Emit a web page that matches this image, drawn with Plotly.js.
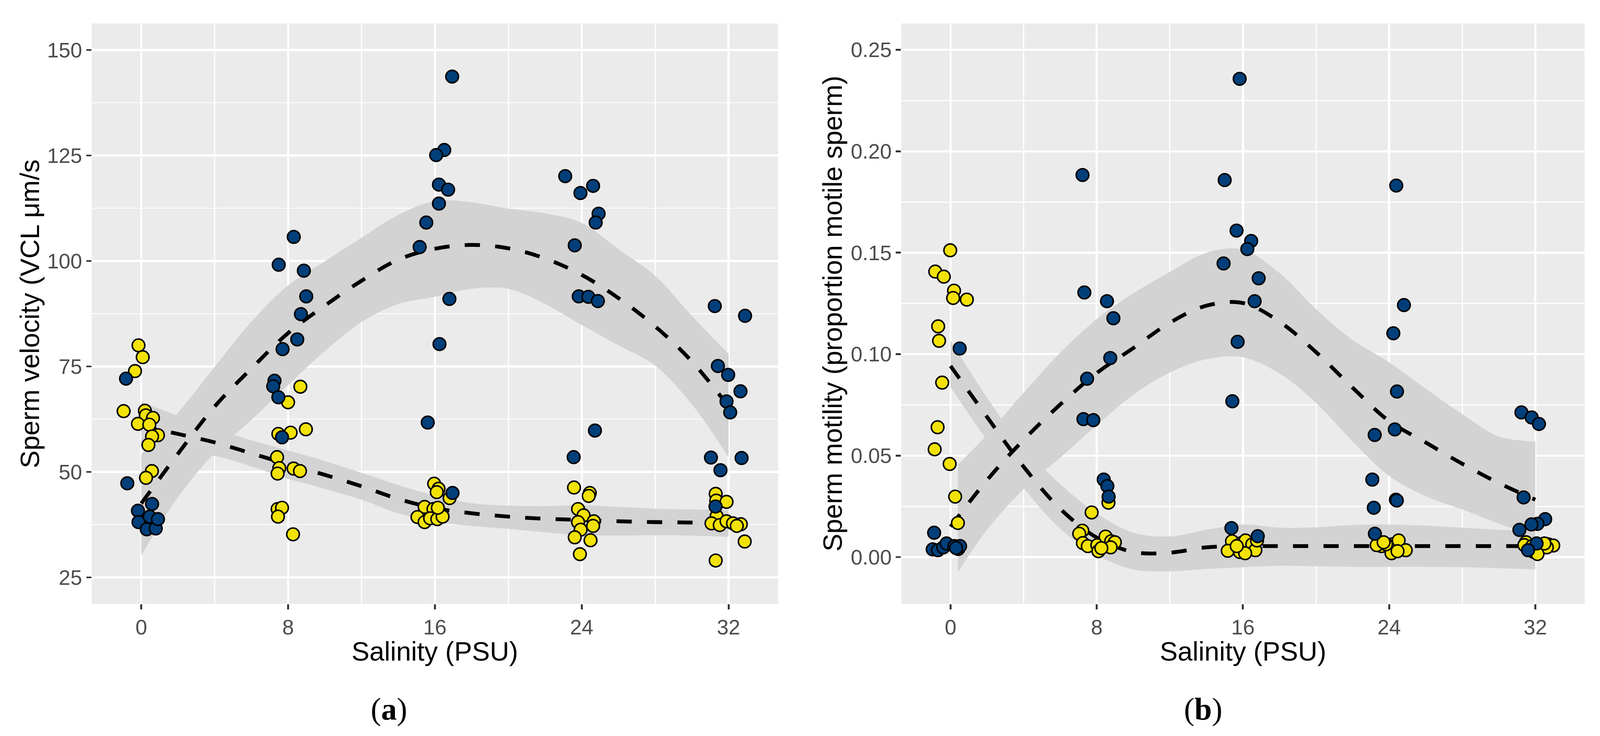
<!DOCTYPE html>
<html>
<head>
<meta charset="utf-8">
<script src="https://cdn.plot.ly/plotly-3.0.1.min.js"></script>
<style>
  html, body { margin: 0; padding: 0; background: white; overflow: hidden; }
</style>
</head>
<body>
<div id="grafico"></div>
<script>
// salinity ticks and jittered positions of the points
var salTicks = [0, 8, 16, 24, 32];
var salMinor = [4, 12, 20, 28];

// (a) velocity - dark blue group
var velBlueX = [-0.83, -0.76, -0.18, -0.15, 0.30, 0.46, 0.59, 0.79, 0.91,
  8.31, 7.49, 8.86, 8.99, 8.70, 8.50, 7.70, 7.26, 7.19, 7.47, 7.67,
  16.94, 16.51, 16.07, 16.22, 16.72, 16.22, 15.53, 15.17, 16.79, 16.25, 15.61, 16.96,
  23.10, 23.93, 24.62, 24.92, 24.76, 23.62, 23.84, 24.36, 24.88, 24.72, 23.56,
  31.25, 32.90, 31.42, 31.98, 32.65, 31.89, 32.09, 31.04, 32.71, 31.56, 31.29];
var velBlueY = [72.1, 47.3, 40.8, 38.1, 36.4, 39.4, 42.4, 36.6, 38.8,
  105.7, 99.1, 97.7, 91.6, 87.4, 81.4, 79.1, 71.6, 70.3, 67.7, 58.2,
  143.7, 126.3, 125.1, 118.1, 116.9, 113.6, 109.1, 103.3, 91.0, 80.3, 61.7, 45.0,
  120.1, 116.1, 117.8, 111.2, 109.1, 103.7, 91.6, 91.5, 90.5, 59.8, 53.5,
  89.3, 87.0, 75.1, 73.0, 69.1, 66.7, 64.1, 53.4, 53.3, 50.4, 41.8];

// (a) velocity - yellow group
var velYelX = [-0.15, 0.08, -0.34, -0.96, 0.20, 0.25, -0.18, 0.64, 0.44, 0.91, 0.59, 0.39, 0.58, 0.26,
  8.67, 8.00, 8.97, 8.14, 7.47, 7.40, 7.52, 7.43, 8.30, 8.65, 7.43, 7.67, 7.45, 8.27,
  15.96, 16.20, 16.10, 16.80, 15.44, 15.92, 15.05, 15.44, 15.74, 16.13, 16.42, 16.16,
  23.58, 24.44, 24.38, 23.80, 24.10, 23.80, 24.66, 24.62, 23.94, 23.62, 24.48, 23.90,
  31.30, 31.33, 31.89, 31.35, 31.07, 31.52, 31.89, 32.24, 32.67, 32.45, 32.88, 31.30];
var velYelY = [80.0, 77.2, 73.9, 64.4, 64.5, 63.4, 61.4, 62.8, 61.2, 58.7, 58.4, 56.4, 50.2, 48.6,
  70.2, 66.5, 60.1, 59.3, 59.0, 53.5, 50.9, 49.6, 50.8, 50.2, 41.2, 41.5, 39.4, 35.2,
  47.2, 46.0, 45.2, 43.8, 41.7, 41.2, 39.3, 38.1, 39.0, 38.8, 39.4, 41.5,
  46.3, 45.0, 44.3, 41.2, 39.7, 38.1, 38.3, 37.2, 36.3, 34.5, 33.8, 30.5,
  44.8, 43.2, 42.9, 39.5, 37.8, 37.4, 38.3, 37.8, 37.6, 37.2, 33.5, 29.0];

// (b) motility - dark blue group
var motBlueX = [0.50, -0.90, -0.98, -0.69, -0.40, -0.22, 0.21, 0.42, 0.52, 0.30,
  7.22, 7.32, 8.56, 8.91, 8.74, 7.47, 7.27, 7.81, 8.38, 8.58, 8.65,
  15.82, 15.00, 15.65, 16.45, 16.24, 14.94, 16.86, 16.64, 15.71, 15.42, 15.37, 16.81,
  24.39, 24.81, 24.23, 24.43, 23.21, 24.31, 23.08, 23.16, 24.37, 24.42, 23.22,
  31.24, 31.80, 32.20, 31.36, 32.54, 32.12, 31.79, 31.13, 32.07, 31.60];
var motBlueY = [0.1028, 0.0120, 0.0038, 0.0034, 0.0048, 0.0067, 0.0054, 0.0040, 0.0054, 0.0045,
  0.1883, 0.1304, 0.1261, 0.1177, 0.0981, 0.0879, 0.0680, 0.0675, 0.0382, 0.0350, 0.0298,
  0.2357, 0.1858, 0.1609, 0.1558, 0.1518, 0.1447, 0.1374, 0.1261, 0.1061, 0.0768, 0.0143, 0.0103,
  0.1831, 0.1242, 0.1103, 0.0816, 0.0602, 0.0629, 0.0382, 0.0243, 0.0283, 0.0279, 0.0115,
  0.0713, 0.0688, 0.0656, 0.0294, 0.0187, 0.0164, 0.0161, 0.0134, 0.0067, 0.0034];

// (b) motility - yellow group
var motYelX = [-0.02, -0.84, -0.37, 0.19, 0.14, 0.89, -0.68, -0.63, -0.46, -0.71, -0.87, -0.05, 0.25, 0.40,
  8.64, 7.72, 7.21, 7.04, 7.24, 7.51, 8.03, 8.09, 8.48, 8.79, 8.99, 8.76, 8.25,
  15.40, 15.17, 15.83, 15.92, 16.14, 16.51, 16.68, 16.12, 15.66, 16.77,
  23.58, 23.32, 24.17, 24.52, 24.13, 24.91, 23.83, 24.46, 23.70,
  31.49, 31.40, 31.92, 32.31, 32.70, 32.98, 32.63, 31.83, 32.12, 32.50];
var motYelY = [0.1512, 0.1407, 0.1382, 0.1313, 0.1277, 0.1269, 0.1137, 0.1066, 0.0860, 0.0640, 0.0531, 0.0459, 0.0298, 0.0168,
  0.0268, 0.0220, 0.0130, 0.0115, 0.0069, 0.0054, 0.0059, 0.0029, 0.0101, 0.0078, 0.0073, 0.0048, 0.0044,
  0.0078, 0.0031, 0.0025, 0.0069, 0.0082, 0.0063, 0.0034, 0.0019, 0.0054, 0.0082,
  0.0054, 0.0059, 0.0063, 0.0082, 0.0019, 0.0034, 0.0063, 0.0029, 0.0073,
  0.0073, 0.0059, 0.0025, 0.0044, 0.0063, 0.0057, 0.0048, 0.0054, 0.0015, 0.0067];

// loess curves
var fitX = [0, 2, 4, 6, 8, 10, 12, 14, 16, 18, 20, 22, 24, 26, 28, 30, 32];
var velBlueFit = [42.5, 54.3, 65.5, 74.5, 82.9, 89.4, 95.3, 100.3, 102.9, 103.8, 103.0, 100.6, 96.7, 91.2, 84.5, 76.2, 65.5];
var velBlueHi  = [54.2, 64.0, 74.9, 85.6, 94.2, 99.9, 105.5, 110.9, 114.2, 113.9, 112.4, 111.3, 109.0, 102.8, 96.5, 87.0, 78.0];
var velBlueLo  = [30.2, 44.0, 54.5, 62.3, 70.6, 78.6, 85.5, 89.8, 91.5, 93.4, 93.4, 89.8, 84.8, 80.0, 75.2, 66.0, 53.5];
var velYelFit  = [61.0, 59.0, 57.0, 54.4, 51.8, 49.3, 46.6, 43.6, 41.4, 40.2, 39.4, 38.9, 38.6, 38.3, 38.1, 38.0, 37.9];
var velYelHi   = [66.6, 63.3, 60.3, 57.5, 55.1, 52.6, 49.8, 46.9, 44.4, 42.6, 42.0, 41.9, 42.1, 41.7, 41.3, 41.1, 41.0];
var velYelLo   = [55.4, 54.7, 53.8, 51.3, 48.4, 46.0, 43.4, 40.2, 38.2, 37.2, 36.5, 35.7, 35.0, 34.9, 35.0, 34.9, 34.6];

var bandX2 = [0.4, 2, 4, 6, 8, 10, 12, 14, 16, 18, 20, 22, 24, 26, 28, 30, 32];
var motBlueFit = [0.0150, 0.0380, 0.0578, 0.0752, 0.0907, 0.1030, 0.1155, 0.1239, 0.1252, 0.1160, 0.1010, 0.0835, 0.0670, 0.0565, 0.0460, 0.0365, 0.0283];
var motBlueHi  = [0.0455, 0.0603, 0.0810, 0.1007, 0.1173, 0.1300, 0.1405, 0.1500, 0.1515, 0.1400, 0.1222, 0.1070, 0.0960, 0.0830, 0.0705, 0.0595, 0.0570];
var motBlueLo  = [-0.0075, 0.0135, 0.0335, 0.0490, 0.0650, 0.0800, 0.0910, 0.0975, 0.0985, 0.0905, 0.0760, 0.0570, 0.0400, 0.0300, 0.0235, 0.0165, 0.0101];
var motYelFit  = [0.0942, 0.0690, 0.0445, 0.0238, 0.0096, 0.0025, 0.0022, 0.0048, 0.0054, 0.0054, 0.0054, 0.0054, 0.0054, 0.0054, 0.0054, 0.0054, 0.0054];
var motYelHi   = [0.1067, 0.0785, 0.0540, 0.0360, 0.0215, 0.0120, 0.0102, 0.0135, 0.0160, 0.0145, 0.0147, 0.0158, 0.0160, 0.0155, 0.0145, 0.0135, 0.0130];
var motYelLo   = [0.0837, 0.0575, 0.0340, 0.0140, 0.0010, -0.0061, -0.0070, -0.0058, -0.0050, -0.0043, -0.0045, -0.0048, -0.0048, -0.0048, -0.0050, -0.0055, -0.0061];

var velTicks = [25, 50, 75, 100, 125, 150];
var velMinor = [37.5, 62.5, 87.5, 112.5, 137.5];
var motTicks = [0, 0.05, 0.10, 0.15, 0.20, 0.25];
var motTickText = ['0.00', '0.05', '0.10', '0.15', '0.20', '0.25'];
var motMinor = [0.025, 0.075, 0.125, 0.175, 0.225];

var azul = '#013F7B';
var amarillo = '#F2E205';
var banda = '#D3D3D3';

// the window can be narrower than 4275 (it came out 4096 wide), so fit the page
// and scale the pixel sizes a bit
var W = window.innerWidth || 4275;
var H = window.innerHeight || 1884;
var s = Math.sqrt(Math.min(W / 4275, 1) * Math.min(H / 1884, 1));

function ribbon(x, lo, hi, xa, ya) {
  return [
    { x: x, y: lo, xaxis: xa, yaxis: ya, type: 'scatter', mode: 'lines',
      line: { width: 0, shape: 'spline', color: banda }, hoverinfo: 'skip' },
    { x: x, y: hi, xaxis: xa, yaxis: ya, type: 'scatter', mode: 'lines', fill: 'tonexty',
      fillcolor: banda, line: { width: 0, shape: 'spline', color: banda }, hoverinfo: 'skip' }
  ];
}

function curva(x, y, xa, ya) {
  var d = Math.round(40 * s);
  return { x: x, y: y, xaxis: xa, yaxis: ya, type: 'scatter', mode: 'lines',
    line: { color: 'black', width: 10 * s, dash: d + 'px,' + d + 'px', shape: 'spline' }, hoverinfo: 'skip' };
}

function puntos(x, y, color, xa, ya) {
  return { x: x, y: y, xaxis: xa, yaxis: ya, type: 'scatter', mode: 'markers',
    marker: { size: 33 * s, color: color, line: { color: 'black', width: 4 * s } }, hoverinfo: 'skip' };
}

var data = [].concat(
  ribbon(fitX, velBlueLo, velBlueHi, 'x', 'y'),
  ribbon(fitX, velYelLo, velYelHi, 'x', 'y'),
  [curva(fitX, velBlueFit, 'x', 'y'), curva(fitX, velYelFit, 'x', 'y')],
  [puntos(velYelX, velYelY, amarillo, 'x', 'y'), puntos(velBlueX, velBlueY, azul, 'x', 'y')],
  ribbon(bandX2, motBlueLo, motBlueHi, 'x2', 'y2'),
  ribbon(fitX, motYelLo, motYelHi, 'x2', 'y2'),
  [curva(fitX, motBlueFit, 'x2', 'y2'), curva(fitX, motYelFit, 'x2', 'y2')],
  [puntos(motYelX, motYelY, amarillo, 'x2', 'y2'), puntos(motBlueX, motBlueY, azul, 'x2', 'y2')]
);

function eje(extra) {
  var base = {
    ticks: 'outside', ticklen: 13 * s, tickwidth: 5 * s, tickcolor: '#333333',
    showgrid: true, gridcolor: 'white', gridwidth: 5.5 * s,
    zeroline: false, showline: false, tickmode: 'array',
    tickfont: { family: 'Liberation Sans', size: 55 * s, color: '#4D4D4D' },
    fixedrange: true
  };
  for (var k in extra) base[k] = extra[k];
  return base;
}

function menor(vals) {
  return { tickmode: 'array', tickvals: vals, showgrid: true, gridcolor: 'white', gridwidth: 3 * s, ticks: '' };
}

var dominioY = [338 / 1884, 1824 / 1884];
var medioY = (dominioY[0] + dominioY[1]) / 2;

// axis titles and panel letters as paper annotations (positions)
function texto(t, x, y, size, family, angle) {
  return { text: t, xref: 'paper', yref: 'paper', x: x, y: y, textangle: angle || 0,
    xanchor: 'center', yanchor: 'middle', showarrow: false,
    font: { family: family, size: size * s, color: 'black' } };
}

var layout = {
  width: W, height: H,
  margin: { l: 0, r: 0, t: 0, b: 0 },
  paper_bgcolor: 'white', plot_bgcolor: '#EBEBEB',
  showlegend: false,
  xaxis: eje({ domain: [245 / 4275, 2079 / 4275], range: [-2.7, 34.7], anchor: 'y',
    tickvals: salTicks, minor: menor(salMinor), ticklabelstandoff: -12 * s }),
  yaxis: eje({ domain: dominioY, range: [18.7, 156.3], anchor: 'x',
    tickvals: velTicks, minor: menor(velMinor) }),
  xaxis2: eje({ domain: [2408 / 4275, 4234 / 4275], range: [-2.7, 34.7], anchor: 'y2',
    tickvals: salTicks, minor: menor(salMinor), ticklabelstandoff: -12 * s }),
  yaxis2: eje({ domain: dominioY, range: [-0.0231, 0.263], anchor: 'x2',
    tickvals: motTicks, ticktext: motTickText, minor: menor(motMinor) }),
  annotations: [
    texto('Salinity (PSU)', 1162 / 4275, 1 - 1667 / 1884, 70, 'Liberation Sans'),
    texto('Salinity (PSU)', 3321 / 4275, 1 - 1667 / 1884, 70, 'Liberation Sans'),
    texto('Sperm velocity (VCL \u03bcm/s', 80 / 4275, medioY, 70, 'Liberation Sans', -90),
    texto('Sperm motility (proportion motile sperm)', 2225 / 4275, medioY, 70, 'Liberation Sans', -90),
    texto('(<b>a</b>)', 1040 / 4275, 1 - 1815 / 1884, 82, 'Liberation Serif'),
    texto('(<b>b</b>)', 3215 / 4275, 1 - 1815 / 1884, 82, 'Liberation Serif')
  ]
};

Plotly.newPlot('grafico', data, layout, { staticPlot: true, displayModeBar: false });
</script>
</body>
</html>
